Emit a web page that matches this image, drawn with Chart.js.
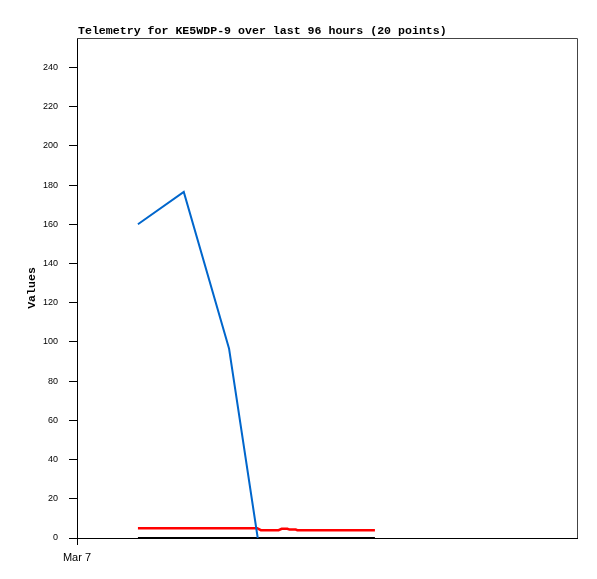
<!DOCTYPE html>
<html lang="en">
<head>
  <meta charset="UTF-8">
  <title>Telemetry for KE5WDP-9</title>
  <style>
    body { margin: 0; background: #fff; }
    #wrap { width: 597px; height: 579px; }
  </style>
</head>
<body>
  <div id="wrap">
    <canvas id="telemetryChart" width="597" height="579"></canvas>
  </div>
  <script src="https://cdn.jsdelivr.net/npm/chart.js"></script>
  <script>
    // hours since Mar 7 00:00
    const blueTimes = [11.7, 20.5, 29.2, 34.7];
    const blueValues = [160, 176.5, 96.5, 0];

    const redTimes = [11.7, 34.6, 35.3, 38.7, 39.3, 40.4, 40.8, 42.0, 42.3, 57.2];
    const redValues = [5, 5, 4, 4, 4.7, 4.7, 4.3, 4.3, 4, 4];

    const blackTimes = [11.7, 57.2];
    const blackValues = [0, 0];

    const xTickLabels = ['Mar 7'];
    const yTicks = [0, 20, 40, 60, 80, 100, 120, 140, 160, 180, 200, 220, 240];

    const toPoints = (xs, ys) => xs.map((x, i) => ({ x: x, y: ys[i] }));

    // title + frame on top/right
    const framePlugin = {
      id: 'frame',
      afterDraw(chart) {
        const { ctx, chartArea } = chart;
        ctx.save();
        ctx.strokeStyle = '#444';
        ctx.lineWidth = 1;
        ctx.beginPath();
        ctx.moveTo(chartArea.left, chartArea.top + 0.5);
        ctx.lineTo(chartArea.right + 0.5, chartArea.top + 0.5);
        ctx.lineTo(chartArea.right + 0.5, chartArea.bottom);
        ctx.stroke();
        ctx.fillStyle = '#000';
        ctx.font = 'bold 11.6px "Liberation Mono"';
        ctx.textBaseline = 'alphabetic';
        ctx.fillText('Telemetry for KE5WDP-9 over last 96 hours (20 points)', 78, 34);
        ctx.restore();
      }
    };

    const ctx = document.getElementById('telemetryChart').getContext('2d');
    const telemetryChart = new Chart(ctx, {
      type: 'line',
      data: {
        datasets: [
          {
            label: 'blue',
            data: toPoints(blueTimes, blueValues),
            borderColor: '#0066cc',
            borderWidth: 2,
            order: 0
          },
          {
            label: 'red',
            data: toPoints(redTimes, redValues),
            borderColor: '#ff0000',
            borderWidth: 2.5,
            order: 1
          },
          {
            label: 'black',
            data: toPoints(blackTimes, blackValues),
            borderColor: '#000000',
            borderWidth: 2,
            order: 2
          }
        ]
      },
      options: {
        responsive: false,
        animation: false,
        layout: { padding: { top: 38, right: 20, bottom: 0, left: 0 } },
        elements: { point: { radius: 0 }, line: { tension: 0 } },
        plugins: {
          legend: { display: false },
          tooltip: { enabled: false }
        },
        scales: {
          x: {
            type: 'linear',
            min: 0,
            max: 96,
            afterFit: scale => { scale.height = 41; },
            afterBuildTicks: scale => { scale.ticks = [{ value: 0 }]; },
            grid: { drawOnChartArea: false, tickLength: 7, color: '#000' },
            border: { color: '#000', width: 1 },
            ticks: {
              padding: 6,
              maxRotation: 0,
              color: '#000',
              font: { family: '"Liberation Sans"', size: 11 },
              callback: (v, i) => xTickLabels[i]
            }
          },
          y: {
            min: 0,
            max: 255,
            afterFit: scale => { scale.width = 77; },
            afterBuildTicks: scale => { scale.ticks = yTicks.map(v => ({ value: v })); },
            grid: { drawOnChartArea: false, tickLength: 8, color: '#000' },
            border: { color: '#000', width: 1 },
            title: {
              display: true,
              text: 'Values',
              color: '#000',
              font: { family: '"Liberation Mono"', size: 11.6, weight: 'bold' },
              padding: { top: 25, bottom: 0 }
            },
            ticks: {
              padding: 11,
              color: '#000',
              font: { family: '"Liberation Sans"', size: 9 }
            }
          }
        }
      },
      plugins: [framePlugin]
    });
  </script>
</body>
</html>
